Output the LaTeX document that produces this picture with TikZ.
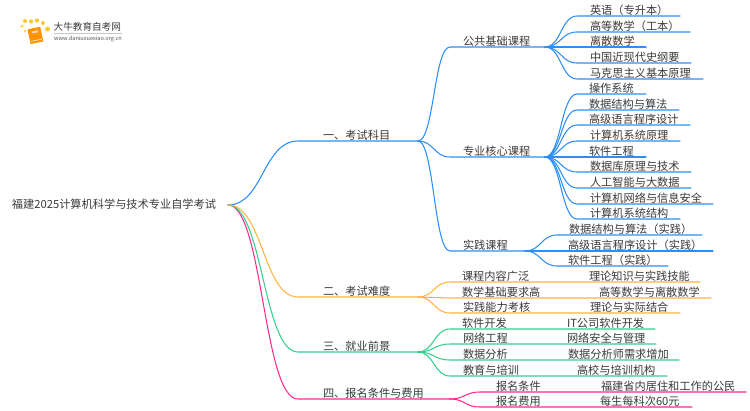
\documentclass[tikz,border=0pt]{standalone}
\usepackage{fontspec}
\setmainfont{Noto Sans CJK SC}
\usetikzlibrary{calc}
\definecolor{cb}{HTML}{2B8FF5}
\definecolor{co}{HTML}{FDB43C}
\definecolor{cg}{HTML}{35CE8D}
\definecolor{cp}{HTML}{FB2A8C}
\definecolor{ct}{HTML}{3A3A3A}
\tikzset{
  lab/.style={anchor=south west,inner sep=0pt,outer sep=0pt,text height=9pt,text depth=1.5pt,text=ct,font=\fontsize{11.2}{11.2}\selectfont},
  conn/.style={line width=1.05pt,line cap=round,line join=round},
}
% \lfnode{name}{x1}{x2}{y}{text x}{text}
\newcommand{\lfnode}[6]{%
  \pgfmathsetmacro\lfw{#3-#2}\pgfmathsetmacro\lfi{#5-#2}%
  \node[lab] (#1) at (#2,#4) {\makebox[\lfw pt][l]{\hspace*{\lfi pt}#6}};}
% \cnct{colour}{from point}{to node}{end node}
\newcommand{\cnct}[4]{%
  \draw[conn,#1] let \p1=(#2),\p2=(#3.south west),\n1={(\x2-\x1)/2} in
    (\p1) .. controls (\x1+\n1,\y1) and (\x2-\n1,\y2) .. (\p2) -- (#4.south east);}
\begin{document}
\begin{tikzpicture}[x=1pt,y=-1pt]
\useasboundingbox (0,0) rectangle (750,410);
\fill[white] (0,0) rectangle (750,410);
% logo
\foreach \a/\b/\r in {25/31/1.2,22/26/1.5,25/21/2,31/21.5/2.1,37/20.5/2.1,43/23/2,47.5/29/2.4}
  \fill[co!75!yellow] (\a,\b) circle (\r);
\fill[orange!85!yellow,rotate around={12:(35,36)}] (29,28) rectangle (42,43);
\draw[white,line width=.5pt,rotate around={12:(35,36)}] (30,40.5) -- (41,40.5);
\fill[orange!30!white,rotate around={12:(35,36)}] (33,31) rectangle (39,33);
\node[inner sep=0pt,text=ct,anchor=west,font=\fontsize{9.6}{9.6}\selectfont] (logotext) at (53.5,27) {大牛教育自考网};
\draw[gray!45,line width=.5pt] (54,33.5) -- (122,33.5);
\node[inner sep=0pt,text=ct!85,anchor=west,font=\fontsize{5.6}{5.6}\selectfont] (logourl) at (54,38.5) {www.daniuxuexiao.org.cn};
% root
\node[lab,anchor=east] (root) at (228,205) {\makebox[216pt][l]{福建2025计算机科学与技术专业自学考试}};
% level 1
\lfnode{a}{298}{418}{141}{323}{一、考试科目}
\lfnode{b}{298}{418}{297}{323}{二、考试难度}
\lfnode{c}{298}{418}{352}{323}{三、就业前景}
\lfnode{d}{298}{450}{399}{323}{四、报名条件与费用}
\cnct{cb}{root.east}{a}{a}
\cnct{cp}{root.east}{d}{d}
\cnct{cg}{root.east}{c}{c}
\cnct{co}{root.east}{b}{b}
% level 2, blue
\lfnode{a1}{450}{545}{47}{463}{公共基础课程}
\lfnode{a2}{450}{545}{157}{463}{专业核心课程}
\lfnode{a3}{450}{525}{251}{463}{实践课程}
\foreach \tgt in {a1,a2,a3} {\cnct{cb}{a.south east}{\tgt}{\tgt}}
% leaves
\lfnode{p1}{577}{680}{16}{590}{英语（专升本）}
\lfnode{p2}{577}{690}{32}{590}{高等数学（工本）}
\lfnode{p3}{577}{646}{47}{590}{离散数学}
\lfnode{p4}{577}{691}{63}{590}{中国近现代史纲要}
\lfnode{p5}{577}{703}{79}{590}{马克思主义基本原理}
\foreach \tgt in {p1,p2,p3,p4,p5} {\cnct{cb}{a1.south east}{\tgt}{\tgt}}
\lfnode{q1}{577}{646}{94}{589}{操作系统}
\lfnode{q2}{577}{679}{110}{589}{数据结构与算法}
\lfnode{q3}{577}{690}{125}{589}{高级语言程序设计}
\lfnode{q4}{577}{680}{141}{590}{计算机系统原理}
\lfnode{q5}{577}{646}{157}{589}{软件工程}
\lfnode{q6}{577}{691}{172}{590}{数据库原理与技术}
\lfnode{q7}{577}{691}{188}{590}{人工智能与大数据}
\lfnode{q8}{577}{713}{204}{590}{计算机网络与信息安全}
\lfnode{q9}{577}{680}{219}{590}{计算机系统结构}
\foreach \tgt in {q1,q2,q3,q4,q5,q6,q7,q8,q9} {\cnct{cb}{a2.south east}{\tgt}{\tgt}}
\lfnode{r1}{557}{702}{235}{569}{数据结构与算法（实践）}
\lfnode{r2}{557}{713}{251}{568}{高级语言程序设计（实践）}
\lfnode{r3}{557}{668}{266}{568}{软件工程（实践）}
\foreach \tgt in {r1,r2,r3} {\cnct{cb}{a3.south east}{\tgt}{\tgt}}
% orange
\lfnode{b1}{450}{560}{282}{462}{课程内容广泛}
\lfnode{b2}{450}{570}{298}{462}{数学基础要求高}
\lfnode{b3}{450}{560}{313}{463}{实践能力考核}
\lfnode{b1x}{560}{700}{282}{589}{理论知识与实践技能}
\lfnode{b2x}{570}{711}{298}{599}{高等数学与离散数学}
\lfnode{b3x}{560}{680}{313}{590}{理论与实际结合}
\foreach \tgt in {b1,b2,b3} {\cnct{co}{b.south east}{\tgt}{\tgt x}}
% green
\lfnode{c1}{450}{540}{329}{462}{软件开发}
\lfnode{c2}{450}{540}{344}{463}{网络工程}
\lfnode{c3}{450}{540}{360}{463}{数据分析}
\lfnode{c4}{450}{550}{376}{463}{教育与培训}
\lfnode{c1x}{540}{655}{329}{567}{IT公司软件开发}
\lfnode{c2x}{540}{656}{344}{567}{网络安全与管理}
\lfnode{c3x}{540}{679}{360}{568}{数据分析师需求增加}
\lfnode{c4x}{550}{667}{376}{577}{高校与培训机构}
\foreach \tgt in {c1,c2,c3,c4} {\cnct{cg}{c.south east}{\tgt}{\tgt x}}
% pink
\lfnode{d1}{480}{580}{392}{496}{报名条件}
\lfnode{d2}{480}{580}{407}{496}{报名费用}
\lfnode{d1x}{580}{746}{392}{601}{福建省内居住和工作的公民}
\lfnode{d2x}{580}{692}{407}{600}{每生每科次60元}
\foreach \tgt in {d1,d2} {\cnct{cp}{d.south east}{\tgt}{\tgt x}}
\end{tikzpicture}
\end{document}
